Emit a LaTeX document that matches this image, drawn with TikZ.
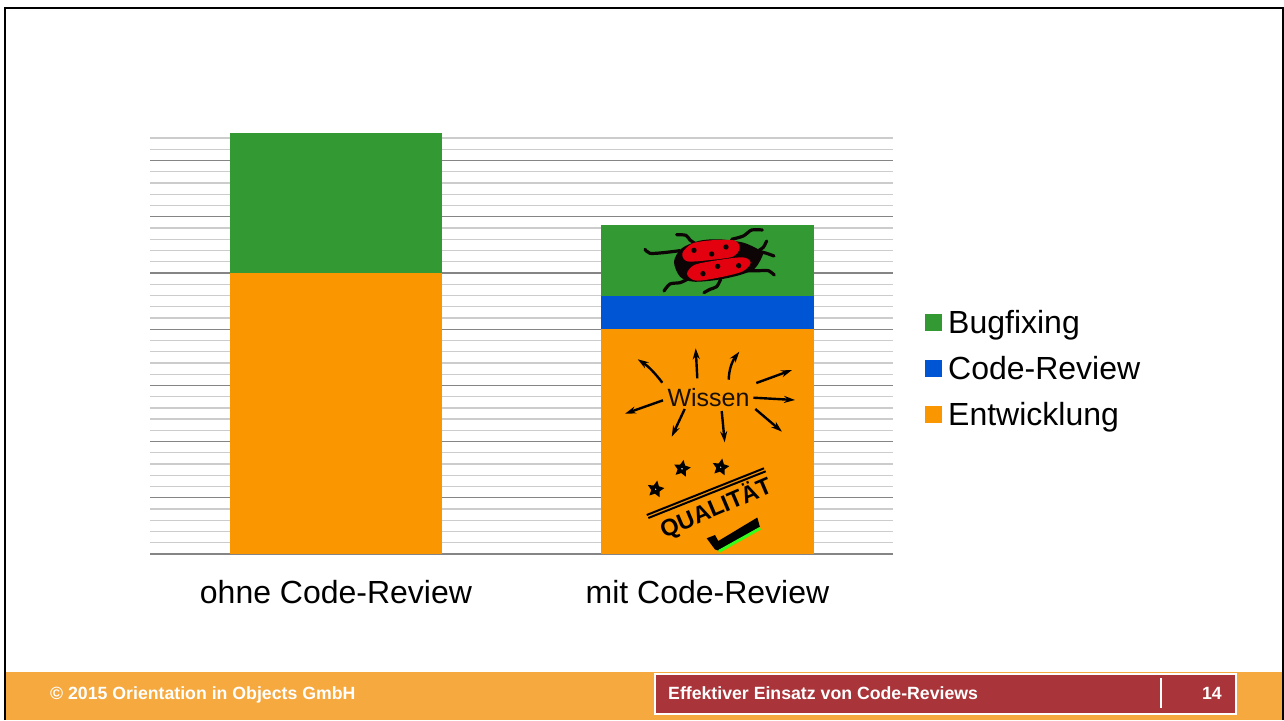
\documentclass[tikz,border=0pt]{standalone}
\usepackage{fontspec}
\setmainfont{Liberation Sans}
\usetikzlibrary{shapes.geometric,arrows.meta}
\definecolor{barGreen}{HTML}{339933}
\definecolor{barBlue}{HTML}{0055D4}
\definecolor{barOrange}{HTML}{FA9600}
\definecolor{footOrange}{HTML}{F5A93F}
\definecolor{footRed}{HTML}{A93439}
\definecolor{bugRed}{HTML}{E3000F}
\definecolor{bugBlack}{HTML}{0D0505}
\definecolor{checkGreen}{HTML}{33FF1A}
\tikzset{
  x=1pt,y=-1pt,
  minorgrid/.style={draw=black!20,line width=1.3pt},
  majorgrid/.style={draw=black!48,line width=1.3pt},
  axislabel/.style={font=\fontsize{32}{32}\selectfont,anchor=base,inner sep=0pt},
  legendtext/.style={font=\fontsize{32}{32}\selectfont,anchor=base west,inner sep=0pt},
  swatch/.style={minimum width=17pt,minimum height=17pt,inner sep=0pt,draw=none},
  wissenarrow/.style={draw=black,line width=2.4pt,-{Stealth[length=11pt,width=7pt]}},
  leg/.style={draw=bugBlack,line width=3.2pt,line cap=round},
  spot/.style={fill=bugBlack,draw=none},
  starmark/.style={star,star points=5,star point ratio=2.0,fill=white,draw=black,line width=3.4pt,minimum size=10pt,inner sep=0pt},
  foottext/.style={font=\fontsize{17.7}{17.7}\bfseries\selectfont,inner sep=0pt},
}
\begin{document}
\begin{tikzpicture}
\useasboundingbox (0,0) rectangle (1284,720);
\fill[white] (0,0) rectangle (1284,720);
% frame
\draw[black,line width=2pt] (5,720) -- (5,7.5) -- (1282.5,7.5) -- (1282.5,720);
% grid
\foreach \k in {0,...,37}{
  \pgfmathsetmacro{\yy}{554-\k*11.24}
  \pgfmathtruncatemacro{\mm}{mod(\k,5)==0 ? 1 : 0}
  \ifnum\mm=1
    \draw[majorgrid] (150,\yy) -- (893,\yy);
  \else
    \draw[minorgrid] (150,\yy) -- (893,\yy);
  \fi
}
% bars
\fill[barOrange] (230,273) rectangle (442,554);
\fill[barGreen] (230,132.5) rectangle (442,273);
\fill[barOrange] (601,329) rectangle (813.5,554);
\fill[barBlue] (601,295.5) rectangle (813.5,329);
\fill[barGreen] (601,225) rectangle (813.5,295.5);
% bug
\begin{scope}[shift={(600,220)},x=0.3333pt,y=-0.3333pt]
  \draw[leg] plot[smooth] coordinates {(135,88) (150,100) (190,98) (240,92)};
  \draw[leg] plot[smooth] coordinates {(230,44) (258,46) (270,60) (288,72)};
  \draw[leg] plot[smooth] coordinates {(395,58) (430,48) (455,30) (487,30)};
  \draw[leg] plot[smooth] coordinates {(478,90) (490,82) (500,63)};
  \draw[leg] plot[smooth] coordinates {(480,95) (500,100) (522,108)};
  \draw[leg] plot[smooth] coordinates {(435,152) (480,152) (505,152) (523,165)};
  \draw[leg] plot[smooth] coordinates {(262,178) (240,188) (210,192) (192,213)};
  \draw[leg] plot[smooth] coordinates {(362,178) (350,200) (330,208) (312,218)};
  \fill[bugBlack] plot[smooth cycle] coordinates {(222,125) (245,85) (300,62) (360,58) (430,68) (475,88) (490,100) (465,145) (420,165) (350,180) (280,185) (240,170)};
  \fill[bugRed] plot[smooth cycle] coordinates {(247,100) (278,70) (345,60) (405,62) (419,85) (398,110) (330,120) (262,124)};
  \fill[bugRed] plot[smooth cycle] coordinates {(261,162) (283,135) (350,121) (428,112) (452,128) (428,154) (360,172) (288,182)};
  \fill[spot] (282,91) circle (8);
  \fill[spot] (335,102) circle (8);
  \fill[spot] (378,81) circle (8);
  \fill[spot] (309,161) circle (8);
  \fill[spot] (353,139) circle (8);
  \fill[spot] (416,137) circle (8);
\end{scope}
% Wissen
\node[font=\fontsize{25}{25}\selectfont,inner sep=0pt,text=black!90!barOrange] (wissen) at (708.5,397.5) {Wissen};
\draw[wissenarrow] (662.3,382.7) .. controls (655,373) and (648,366) .. (637.7,359.3);
\draw[wissenarrow] (697.3,378.3) -- (695.7,348.3);
\draw[wissenarrow] (728.7,379.7) .. controls (729,368) and (733,360) .. (739.3,351.7);
\draw[wissenarrow] (756.3,383) -- (792,370);
\draw[wissenarrow] (753.3,397.7) -- (795,400);
\draw[wissenarrow] (755.3,409) -- (782,431.7);
\draw[wissenarrow] (721.7,411) -- (724.7,442.3);
\draw[wissenarrow] (684.7,409) -- (671.7,436.7);
\draw[wissenarrow] (663,400.3) -- (625,413.7);
% Quality
\node[starmark,rotate=-10] (s1) at (655.7,489.3) {};
\node[starmark,rotate=-10] (s2) at (682,468.7) {};
\node[starmark,rotate=-10] (s3) at (720.7,467.3) {};
\draw[black,line width=2pt] (646.7,515) -- (764,468.3);
\draw[black,line width=2pt] (648.3,518) -- (765.7,471.3);
\node[font=\fontsize{23.5}{23.5}\bfseries\selectfont,rotate=23,inner sep=0pt] (qual) at (716,508) {QUALITÄT};
\fill[black] (706.7,538.3) -- (715,535) -- (718.3,541) -- (757.3,517.5) -- (760,527.3) -- (718.3,550.5) -- (715,549.5) -- cycle;
\fill[checkGreen] (719,553) -- (761,529.5) -- (759.5,527) -- (718.3,550) -- cycle;
% legend
\node[swatch,fill=barGreen] (lg) at (933,322) {};
\node[swatch,fill=barBlue] (lb) at (933,368) {};
\node[swatch,fill=barOrange] (lo) at (933,414) {};
\node[legendtext] at (948,333) {Bugfixing};
\node[legendtext] at (948,379) {Code-Review};
\node[legendtext] at (948,425) {Entwicklung};
% axis labels
\node[axislabel] at (336,603) {ohne Code-Review};
\node[axislabel] at (707.5,603) {mit Code-Review};
% footer
\fill[footOrange] (6,672) rectangle (1282,720);
\fill[footRed,draw=white,line width=2pt] (655,673.5) rectangle (1236,713.5);
\draw[white,line width=2pt] (1160.5,678) -- (1160.5,708);
\node[foottext,text=white,anchor=base west] at (50,699) {© 2015 Orientation in Objects GmbH};
\node[foottext,text=white,anchor=base west] at (668,699) {Effektiver Einsatz von Code-Reviews};
\node[foottext,text=white,anchor=base east] at (1222,699) {14};
\end{tikzpicture}
\end{document}
